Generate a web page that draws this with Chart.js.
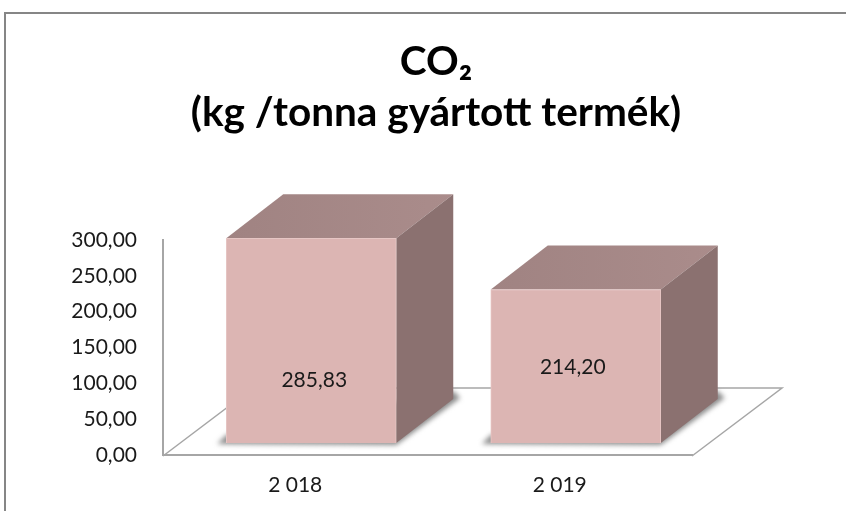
<!DOCTYPE html>
<html>
<head>
<meta charset="utf-8">
<style>
html,body{margin:0;padding:0;background:#fff;overflow:hidden;width:846px;height:511px}
canvas{display:block}
</style>
<script src="https://cdn.jsdelivr.net/npm/chart.js@4"></script>
</head>
<body>
<canvas id="c" width="846" height="511"></canvas>
<script>
const categories = ['2 018', '2 019'];
const co2Values = [285.83, 214.20];
const yTicks = [0, 50, 100, 150, 200, 250, 300];
const titleLines = ['CO\u2082', '(kg /tonna gyártott termék)'];

const FONT = 'Lato, Carlito, "Open Sans", sans-serif';
const fmt = v => v.toFixed(2).replace('.', ',');
const OFF = {x: 16, y: -12};            // bars stand forward of the axis plane
const DEPTH = {x: 57, y: -44};          // bar depth
const FLOOR = {x: 90, y: -68};          // floor depth
const LABEL_DX = [3, -3];               // data label offset from bar centre
const LABEL_DY = [40, 1];

const scene = {
  id: 'scene',
  afterLayout(chart) {
    chart.titleBlock.left = 26;
    chart.titleBlock.right = chart.width;
  },
  beforeDraw(chart) {
    const c = chart.ctx;
    c.save();
    c.fillStyle = '#fff';
    c.fillRect(0, 0, chart.width, chart.height);
    c.strokeStyle = '#868686';
    c.lineWidth = 2;
    c.beginPath();
    c.moveTo(5, chart.height);
    c.lineTo(5, 13);
    c.lineTo(chart.width, 13);
    c.stroke();
    c.restore();
  },
  beforeDatasetsDraw(chart) {
    const c = chart.ctx;
    const {left, right, bottom} = chart.chartArea;
    const base = bottom + 1;
    c.save();
    // floor
    c.strokeStyle = '#a6a6a6';
    c.lineWidth = 1.5;
    c.beginPath();
    c.moveTo(left, base);
    c.lineTo(left + FLOOR.x, base + FLOOR.y);
    c.lineTo(right + FLOOR.x, base + FLOOR.y);
    c.lineTo(right, base);
    c.stroke();

    chart.getDatasetMeta(0).data.forEach(bar => {
      const x0 = bar.x - bar.width / 2 + OFF.x;
      const x1 = bar.x + bar.width / 2 + OFF.x;
      const top = bar.y + OFF.y;
      const by = bar.base + OFF.y;
      // soft shadow on the floor
      c.save();
      c.filter = 'blur(2.5px)';
      c.fillStyle = '#8c8c8c';
      c.beginPath();
      c.moveTo(x0 - 9, by + 1);
      c.lineTo(x1, by + 2);
      c.lineTo(x1 + DEPTH.x + 7, by + DEPTH.y - 1);
      c.lineTo(x1 + DEPTH.x, by + DEPTH.y - 8);
      c.lineTo(x0, by - 8);
      c.closePath();
      c.fill();
      c.restore();
      // top face
      const g = c.createLinearGradient(x0, 0, x1 + DEPTH.x, 0);
      g.addColorStop(0, '#a08382');
      g.addColorStop(1, '#aa8c8b');
      c.fillStyle = g;
      c.beginPath();
      c.moveTo(x0, top);
      c.lineTo(x0 + DEPTH.x, top + DEPTH.y);
      c.lineTo(x1 + DEPTH.x, top + DEPTH.y);
      c.lineTo(x1, top);
      c.closePath();
      c.fill();
      // side face
      c.fillStyle = '#8b7170';
      c.beginPath();
      c.moveTo(x1, top);
      c.lineTo(x1 + DEPTH.x, top + DEPTH.y);
      c.lineTo(x1 + DEPTH.x, by + DEPTH.y);
      c.lineTo(x1, by);
      c.closePath();
      c.fill();
    });
    c.restore();
    c.save();
    c.translate(OFF.x, OFF.y);
  },
  afterDatasetsDraw(chart) {
    const c = chart.ctx;
    c.restore();
    c.save();
    c.font = '21px ' + FONT;
    c.fillStyle = '#1a1a1a';
    c.textAlign = 'center';
    c.textBaseline = 'middle';
    chart.getDatasetMeta(0).data.forEach((bar, i) => {
      c.fillText(fmt(co2Values[i]), bar.x + OFF.x + LABEL_DX[i],
        (bar.y + bar.base) / 2 + OFF.y + LABEL_DY[i]);
    });
    c.restore();
  }
};

new Chart(document.getElementById('c'), {
  type: 'bar',
  data: {
    labels: categories,
    datasets: [{
      data: co2Values,
      backgroundColor: '#dcb5b3',
      borderColor: '#e6c6c4',
      borderWidth: 1,
      barThickness: 170
    }]
  },
  plugins: [scene],
  options: {
    responsive: false,
    animation: false,
    events: [],
    layout: {padding: {left: 0, right: 154, top: 0, bottom: 0}},
    plugins: {
      legend: {display: false},
      tooltip: {enabled: false},
      title: {
        display: true,
        text: titleLines,
        color: '#000',
        font: {family: FONT, size: 40.5, weight: 'bold', lineHeight: 1.26},
        padding: {top: 36.5, bottom: 101.5}
      }
    },
    scales: {
      x: {
        grid: {display: false, drawTicks: false},
        border: {display: true, color: '#a6a6a6', width: 2},
        ticks: {color: '#1a1a1a', font: {family: FONT, size: 21}, padding: 18, maxRotation: 0},
        afterFit(s) { s.height = 56; }
      },
      y: {
        min: 0,
        max: 300,
        afterBuildTicks(s) { s.ticks = yTicks.map(v => ({value: v})); },
        grid: {display: false, drawTicks: false},
        border: {display: true, color: '#a6a6a6', width: 2},
        ticks: {
          color: '#1a1a1a',
          font: {family: FONT, size: 21},
          padding: 26,
          callback: v => fmt(v)
        },
        afterFit(s) { s.width = 163; }
      }
    }
  }
});
</script>
</body>
</html>
